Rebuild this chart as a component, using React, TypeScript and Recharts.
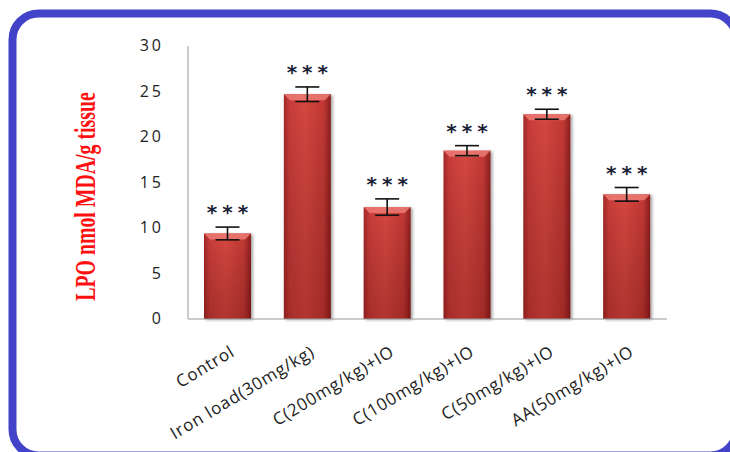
import { BarChart, Bar, XAxis, YAxis, ErrorBar, LabelList } from 'recharts';

const groups = [
    'Control',
    'Iron load(30mg/kg)',
    'C(200mg/kg)+IO',
    'C(100mg/kg)+IO',
    'C(50mg/kg)+IO',
    'AA(50mg/kg)+IO',
];
const lpo = [9.4, 24.7, 12.3, 18.5, 22.5, 13.7];
const sem = [0.7, 0.8, 0.9, 0.55, 0.55, 0.75];
const signif = ['***', '***', '***', '***', '***', '***'];
const yTicks = [0, 5, 10, 15, 20, 25, 30];

const data = groups.map((name, i) => ({ name, lpo: lpo[i], err: sem[i], sig: signif[i] }));

// bar body with a lighter bevel on top
function BevelBar(props: any) {
    const { x, y, width, height } = props;
    if (!height || height <= 0) return null;
    const b = 6;
    return (
        <g filter="url(#barShadow)">
            <rect x={x} y={y} width={width} height={height} fill="url(#barBody)" />
            <rect x={x} y={y} width={width} height={height} fill="url(#barShade)" />
            <path
                d={`M${x},${y} L${x + width},${y} L${x + width - b},${y + b} L${x + b},${y + b} Z`}
                fill="#ec7a74"
                opacity={0.85}
            />
        </g>
    );
}

// significance stars sit above the error bar
function Stars(props: any) {
    const { x, y, width, height, index } = props;
    const perUnit = height / lpo[index];
    const top = y - sem[index] * perUnit;
    return (
        <text
            x={x + width / 2}
            y={top - 8}
            dx={2.5}
            textAnchor="middle"
            fontFamily="DejaVu Sans"
            fontSize={20}
            fontWeight="bold"
            letterSpacing={5}
            fill="#1c2238"
        >
            {signif[index]}
        </text>
    );
}

function CategoryTick(props: any) {
    const { x, y, payload } = props;
    const ax = x + 8;
    const ay = y + 28;
    return (
        <text
            x={ax}
            y={ay}
            transform={`rotate(-31, ${ax}, ${ay})`}
            textAnchor="end"
            fontFamily="Open Sans"
            fontSize={17}
            letterSpacing={0.8}
            fill="#222"
        >
            {payload.value}
        </text>
    );
}

function ValueTick(props: any) {
    const { x, y, payload } = props;
    return (
        <text
            x={x - 16}
            y={y + 5}
            textAnchor="end"
            fontFamily="Open Sans"
            fontSize={16}
            letterSpacing={3}
            fill="#222"
        >
            {payload.value}
        </text>
    );
}

function AxisTitle(props: any) {
    const { viewBox } = props;
    const cx = 84;
    const cy = viewBox.y + viewBox.height / 2 + 14;
    return (
        <text
            transform={`translate(${cx}, ${cy}) rotate(-90) scale(0.66, 1)`}
            textAnchor="middle"
            dominantBaseline="central"
            fontFamily="Liberation Serif"
            fontWeight="bold"
            fontSize={30}
            fill="#ff1010"
        >
            LPO nmol MDA/g tissue
        </text>
    );
}

export default function App() {
    return (
        <div style={{ position: 'absolute', left: 0, top: 0, width: 730, height: 452, background: '#fff' }}>
            <svg width={730} height={452} style={{ position: 'absolute', left: 0, top: 0 }}>
                <rect x={12.5} y={13.5} width={724} height={442} rx={26} fill="none" stroke="#4343c9" strokeWidth={8} />
            </svg>
            <div style={{ position: 'absolute', left: 0, top: 0 }}>
                <BarChart
                    width={730}
                    height={452}
                    data={data}
                    margin={{ top: 46, right: 63, bottom: 103, left: 0 }}
                    barSize={47}
                >
                    <defs>
                        <linearGradient id="barBody" x1="0" y1="0" x2="1" y2="0">
                            <stop offset="0%" stopColor="#a32828" />
                            <stop offset="12%" stopColor="#c93c3a" />
                            <stop offset="45%" stopColor="#d6473f" />
                            <stop offset="85%" stopColor="#c23834" />
                            <stop offset="100%" stopColor="#8a1e1e" />
                        </linearGradient>
                        <linearGradient id="barShade" x1="0" y1="0" x2="0" y2="1">
                            <stop offset="0%" stopColor="#000" stopOpacity={0} />
                            <stop offset="100%" stopColor="#400" stopOpacity={0.25} />
                        </linearGradient>
                        <filter id="barShadow" x="-20%" y="-5%" width="150%" height="115%">
                            <feDropShadow dx={2} dy={1} stdDeviation={1.5} floodColor="#000" floodOpacity={0.35} />
                        </filter>
                    </defs>
                    <XAxis
                        dataKey="name"
                        interval={0}
                        tickLine={false}
                        axisLine={{ stroke: '#999' }}
                        tick={<CategoryTick />}
                    />
                    <YAxis
                        width={188}
                        domain={[0, 30]}
                        ticks={yTicks}
                        tickLine={false}
                        axisLine={{ stroke: '#999' }}
                        tick={<ValueTick />}
                        label={{ content: <AxisTitle /> }}
                    />
                    <Bar dataKey="lpo" shape={<BevelBar />} isAnimationActive={false}>
                        <ErrorBar dataKey="err" width={12} stroke="#111" strokeWidth={1.6} />
                        <LabelList dataKey="sig" content={<Stars />} />
                    </Bar>
                </BarChart>
            </div>
        </div>
    );
}
